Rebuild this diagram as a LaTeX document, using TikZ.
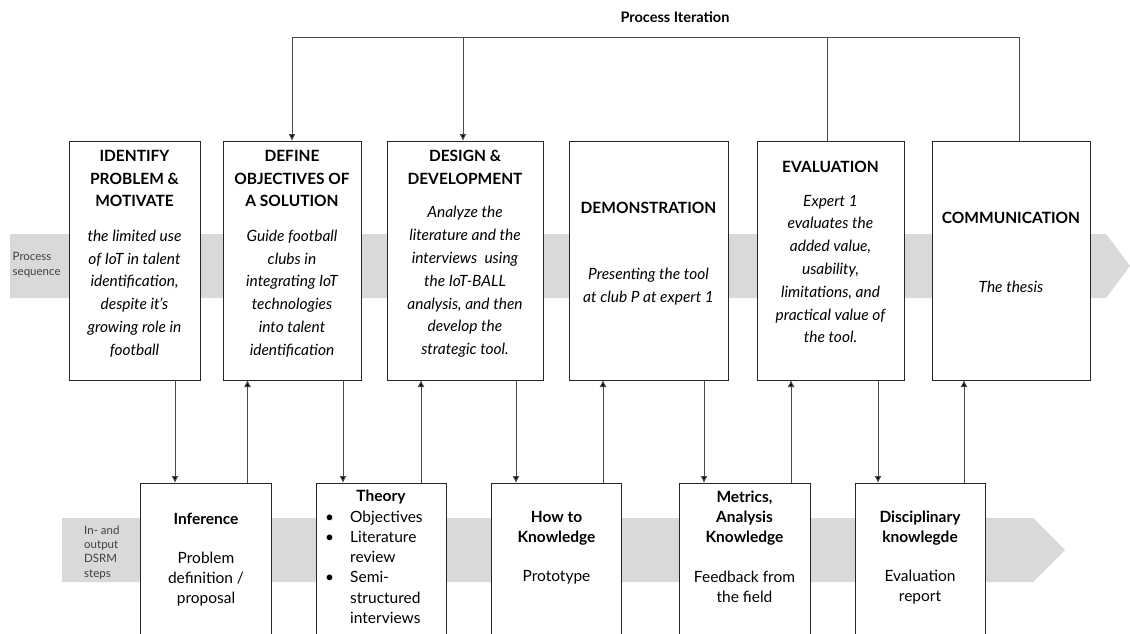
\documentclass[tikz,border=0pt]{standalone}
\usepackage{fontspec}
\setmainfont{Lato}
\usetikzlibrary{arrows.meta}
\definecolor{band}{HTML}{D9D9D9}
\definecolor{conn}{HTML}{4A4A4A}
\definecolor{lbl}{HTML}{404040}
\definecolor{edge}{HTML}{262626}
\begin{document}
\begin{tikzpicture}[x=1pt,y=-1pt,
  box/.style={draw=edge,line width=0.9pt,anchor=north west,inner sep=0pt,outer sep=0pt},
  ttl/.style={font=\fontsize{15.5}{22.8}\selectfont\bfseries,align=center,inner sep=0pt},
  bdy/.style={font=\fontsize{15.5}{22.8}\selectfont\itshape,align=center,inner sep=0pt},
  bttl/.style={font=\fontsize{15.5}{20.2}\selectfont\bfseries,align=center,inner sep=0pt},
  bbdy/.style={font=\fontsize{15.5}{20.2}\selectfont,align=center,inner sep=0pt},
  small/.style={font=\fontsize{11.5}{14.3}\selectfont,text=lbl,align=left,inner sep=0pt,anchor=west},
  conn/.style={draw=conn,line width=1pt},
  arr/.style={conn,-{Latex[length=7pt,width=7pt,fill=black]}},
]
\clip (0,0) rectangle (1130,633);
\fill[white] (0,0) rectangle (1130,633);

% bands
\fill[band] (10,234) -- (1106,234) -- (1130,266) -- (1106,298) -- (10,298) -- cycle;
\fill[band] (62,518) -- (1033,518) -- (1065,550) -- (1033,582) -- (62,582) -- cycle;
\node[small] (ps) at (12.5,265) {Process\\sequence};
\node[small] (io) at (84,552.5) {In- and\\output\\DSRM\\steps};

% top boxes
\node[box,fill=white,minimum width=131pt,minimum height=239pt] (t1) at (69,141) {};
\node[box,fill=white,minimum width=138pt,minimum height=239pt] (t2) at (223,141) {};
\node[box,fill=white,minimum width=156pt,minimum height=239pt] (t3) at (387,141) {};
\node[box,fill=white,minimum width=159pt,minimum height=239pt] (t4) at (569,141) {};
\node[box,fill=white,minimum width=147pt,minimum height=239pt] (t5) at (757,141) {};
\node[box,fill=white,minimum width=158pt,minimum height=239pt] (t6) at (932,141) {};

\node[ttl] (t1a) at (134.5,178.5) {IDENTIFY\\PROBLEM \&\\MOTIVATE};
\node[bdy] (t1b) at (134.5,293.5) {the limited use\\of IoT in talent\\identification,\\despite it’s\\growing role in\\football};
\node[ttl] (t2a) at (292,178.5) {DEFINE\\OBJECTIVES OF\\A SOLUTION};
\node[bdy] (t2b) at (292,293.5) {Guide football\\clubs in\\integrating IoT\\technologies\\into talent\\identification};
\node[ttl] (t3a) at (465,167.5) {DESIGN \&\\DEVELOPMENT};
\node[bdy] (t3b) at (465,282) {Analyze the\\literature and the\\interviews\ \ using\\the IoT-BALL\\analysis, and then\\develop the\\strategic tool.};
\node[ttl] (t4a) at (648.5,208) {DEMONSTRATION};
\node[bdy] (t4b) at (648.5,287) {Presenting the tool\\at club P at expert 1};
\node[ttl] (t5a) at (830.5,167) {EVALUATION};
\node[bdy] (t5b) at (830.5,269) {Expert 1\\evaluates the\\added value,\\usability,\\limitations, and\\practical value of\\the tool.};
\node[ttl] (t6a) at (1011,218) {COMMUNICATION};
\node[bdy] (t6b) at (1011,287) {The thesis};

% bottom boxes
\node[box,fill=white,minimum width=131pt,minimum height=200pt] (b1) at (140.5,483) {};
\node[box,fill=white,minimum width=130pt,minimum height=200pt] (b2) at (316,483) {};
\node[box,fill=white,minimum width=130pt,minimum height=200pt] (b3) at (491.5,483) {};
\node[box,fill=white,minimum width=131pt,minimum height=200pt] (b4) at (679,483) {};
\node[box,fill=white,minimum width=130pt,minimum height=200pt] (b5) at (855,483) {};

\node[bttl] (b1a) at (206,519) {Inference};
\node[bbdy] (b1b) at (206,579) {Problem\\definition /\\proposal};
\node[bttl] (b2a) at (381,497) {Theory};
\node[bbdy,anchor=north west] (b2b) at (325,508) {\renewcommand{\arraystretch}{1}\setlength{\tabcolsep}{0pt}%
\begin{tabular}{@{}p{25pt}@{}l@{}}
\textbullet & Objectives\\
\textbullet & Literature\\
 & review\\
\textbullet & Semi-\\
 & structured\\
 & interviews
\end{tabular}};
\node[bttl] (b3a) at (556.5,528) {How to\\Knowledge};
\node[bbdy] (b3b) at (556.5,577) {Prototype};
\node[bttl] (b4a) at (744.5,518) {Metrics,\\Analysis\\Knowledge};
\node[bbdy] (b4b) at (744.5,587) {Feedback from\\the field};
\node[bttl] (b5a) at (920,528) {Disciplinary\\knowlegde};
\node[bbdy] (b5b) at (920,587) {Evaluation\\report};

% connectors between rows
\draw[arr] (t1.south -| 175,0) -- (b1.north -| 175,0);
\draw[arr] (b1.north -| 247.5,0) -- (t2.south -| 247.5,0);
\draw[arr] (t2.south -| 343,0) -- (b2.north -| 343,0);
\draw[arr] (b2.north -| 421,0) -- (t3.south -| 421,0);
\draw[arr] (t3.south -| 516,0) -- (b3.north -| 516,0);
\draw[arr] (b3.north -| 603,0) -- (t4.south -| 603,0);
\draw[arr] (t4.south -| 704,0) -- (b4.north -| 704,0);
\draw[arr] (b4.north -| 791,0) -- (t5.south -| 791,0);
\draw[arr] (t5.south -| 878,0) -- (b5.north -| 878,0);
\draw[arr] (b5.north -| 964,0) -- (t6.south -| 964,0);

% process iteration
\node[font=\fontsize{14.5}{16}\selectfont\bfseries,inner sep=0pt] (pi) at (675,17) {Process Iteration};
\coordinate (iL) at (292,37);
\coordinate (iM) at (463,37);
\coordinate (iE) at (827,37);
\coordinate (iR) at (1019,37);
\draw[conn] (t6.north -| iR) -- (iR) -- (iL);
\draw[conn] (t5.north -| iE) -- (iE);
\draw[arr] (iL) -- (t2.north -| iL);
\draw[arr] (iM) -- (t3.north -| iM);
\end{tikzpicture}
\end{document}
